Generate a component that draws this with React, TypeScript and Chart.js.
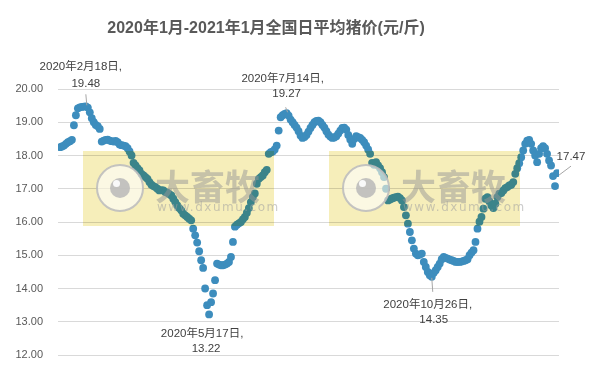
import React, { useEffect, useRef } from "react";
import { Chart, registerables } from "chart.js";

Chart.register(...registerables);

// Daily average hog price (yuan/jin), Jan 2020 - Jan 2021
const prices: number[] = [
  18.25, 18.27, 18.30, 18.35, 18.40, 18.43, 18.47, 18.91, 19.21, 19.42,
  19.45, 19.46, 19.47, 19.48, 19.44, 19.30, 19.12, 19.00, 18.92, 18.88,
  18.80, 18.42, 18.45, 18.47, 18.48, 18.45, 18.43, 18.42, 18.44, 18.40,
  18.33, 18.31, 18.30, 18.28, 18.22, 18.12, 18.00, 17.78, 17.70, 17.62,
  17.55, 17.45, 17.40, 17.35, 17.30, 17.20, 17.12, 17.08, 17.05, 17.00,
  16.95, 16.96, 16.95, 16.90, 16.88, 16.84, 16.80, 16.70, 16.60, 16.50,
  16.42, 16.35, 16.25, 16.20, 16.15, 16.10, 16.05, 15.80, 15.60, 15.38,
  15.12, 14.85, 14.62, 14.00, 13.50, 13.22, 13.59, 13.85, 14.25, 14.75,
  14.72, 14.70, 14.70, 14.72, 14.75, 14.80, 14.95, 15.40, 15.86, 15.92,
  15.96, 16.00, 16.08, 16.15, 16.28, 16.42, 16.60, 16.75, 16.86, 17.15,
  17.30, 17.35, 17.40, 17.50, 17.57, 18.05, 18.10, 18.12, 18.18, 18.30,
  18.75, 19.15, 19.21, 19.25, 19.27, 19.20, 19.08, 19.00, 18.92, 18.84,
  18.73, 18.60, 18.53, 18.56, 18.62, 18.72, 18.83, 18.92, 19.00, 19.04,
  19.05, 19.00, 18.92, 18.84, 18.73, 18.63, 18.57, 18.53, 18.54, 18.58,
  18.66, 18.75, 18.83, 18.84, 18.78, 18.62, 18.48, 18.35, 18.50, 18.58,
  18.55, 18.53, 18.47, 18.40, 18.30, 18.18, 18.05, 17.78, 17.72, 17.80,
  17.70, 17.62, 17.50, 17.35, 17.00, 16.65, 16.68, 16.71, 16.73, 16.75,
  16.76, 16.72, 16.65, 16.45, 16.20, 15.95, 15.70, 15.45, 15.20, 15.05,
  15.00, 15.02, 15.05, 14.80, 14.65, 14.50, 14.40, 14.35, 14.47, 14.55,
  14.65, 14.75, 14.88, 14.95, 14.92, 14.90, 14.87, 14.85, 14.83, 14.80,
  14.80, 14.80, 14.81, 14.83, 14.85, 14.88, 15.00, 15.08, 15.15, 15.40,
  15.80, 16.01, 16.15, 16.40, 16.70, 16.75, 16.62, 16.50, 16.42, 16.55,
  16.75, 16.85, 16.87, 16.95, 17.02, 17.05, 17.10, 17.12, 17.20, 17.45,
  17.62, 17.77, 17.95, 18.15, 18.35, 18.45, 18.47, 18.35, 18.15, 18.00,
  17.80, 18.05, 18.22, 18.28, 18.22, 18.05, 17.85, 17.70, 17.38, 17.08,
  17.47,
];

const yTicks: number[] = [12, 13, 14, 15, 16, 17, 18, 19, 20];

const titleText = "2020年1月-2021年1月全国日平均猪价(元/斤)";

// annotated points: index into prices, date label, value label
const annIndex: number[] = [13, 75, 114, 187, 250];
const annDate: string[] = ["2020年2月18日,", "2020年5月17日,", "2020年7月14日,", "2020年10月26日,", ""];
const annValue: string[] = ["19.48", "13.22", "19.27", "14.35", "17.47"];

// label layout offsets relative to the point (style, not data)
const annLayout = [
  { l1: [-5, -39], l2: [0, -22], lead: [[0, -12], [1, -1]] },
  { l1: [-7, 19], l2: [-3, 34], lead: null },
  { l1: [-4, -34], l2: [0, -19], lead: [[-1, -6], [1, -1]] },
  { l1: [-4, 28], l2: [2, 43], lead: [[0, 1], [1, 15]] },
  { l1: [0, 0], l2: [14, -16], lead: [[2, 2], [14, -7]] },
];

const LABEL_FONT = '11.5px "Liberation Sans", "Noto Sans CJK SC", sans-serif';

function drawWatermark(ctx: CanvasRenderingContext2D, x: number, y: number) {
  const w = 191;
  const h = 75;
  ctx.save();
  ctx.globalCompositeOperation = "multiply";
  ctx.fillStyle = "rgb(246,238,186)";
  ctx.fillRect(x, y, w, h);
  ctx.restore();

  ctx.save();
  const cx = x + 37;
  const cy = y + 37;
  ctx.beginPath();
  ctx.arc(cx, cy, 23, 0, Math.PI * 2);
  ctx.fillStyle = "rgba(255,255,255,0.6)";
  ctx.fill();
  ctx.lineWidth = 2;
  ctx.strokeStyle = "rgba(190,190,190,0.9)";
  ctx.stroke();
  ctx.beginPath();
  ctx.arc(cx, cy, 10, 0, Math.PI * 2);
  ctx.fillStyle = "rgba(185,185,185,0.85)";
  ctx.fill();
  ctx.beginPath();
  ctx.arc(cx - 3.5, cy - 4.5, 3.5, 0, Math.PI * 2);
  ctx.fillStyle = "rgba(255,255,255,0.9)";
  ctx.fill();

  ctx.fillStyle = "rgba(150,150,150,0.5)";
  ctx.font = 'bold 35px "Noto Sans CJK SC", sans-serif';
  ctx.textAlign = "left";
  ctx.textBaseline = "middle";
  ctx.fillText("大畜牧", x + 72, y + 36);

  ctx.fillStyle = "rgba(160,160,160,0.55)";
  ctx.font = '12px "DejaVu Sans", sans-serif';
  (ctx as any).letterSpacing = "1.5px";
  ctx.fillText("www.dxumu.com", x + 74, y + 57);
  ctx.restore();
}

const watermarkPlugin = {
  id: "watermark",
  afterDatasetsDraw(chart: any) {
    const ctx = chart.ctx as CanvasRenderingContext2D;
    drawWatermark(ctx, 83, 151);
    drawWatermark(ctx, 329, 151);
  },
};

const titlePlugin = {
  id: "customTitle",
  afterDraw(chart: any) {
    const ctx = chart.ctx as CanvasRenderingContext2D;
    ctx.save();
    ctx.fillStyle = "#595959";
    ctx.font = 'bold 16px "Liberation Sans", "Noto Sans CJK SC", sans-serif';
    ctx.textAlign = "center";
    ctx.textBaseline = "middle";
    ctx.fillText(titleText, 266, 29);
    ctx.restore();
  },
};

const annotationPlugin = {
  id: "pointLabels",
  afterDraw(chart: any) {
    const ctx = chart.ctx as CanvasRenderingContext2D;
    const xs = chart.scales.x;
    const ys = chart.scales.y;
    ctx.save();
    ctx.font = LABEL_FONT;
    ctx.fillStyle = "#404040";
    ctx.textAlign = "center";
    ctx.textBaseline = "middle";
    annIndex.forEach((idx, k) => {
      const px = xs.getPixelForValue(idx);
      const py = ys.getPixelForValue(prices[idx]);
      const lay = annLayout[k];
      if (lay.lead) {
        ctx.beginPath();
        ctx.strokeStyle = "#a6a6a6";
        ctx.lineWidth = 1;
        ctx.moveTo(px + lay.lead[0][0], py + lay.lead[0][1]);
        ctx.lineTo(px + lay.lead[1][0], py + lay.lead[1][1]);
        ctx.stroke();
      }
      if (annDate[k]) ctx.fillText(annDate[k], px + lay.l1[0], py + lay.l1[1]);
      ctx.fillText(annValue[k], px + lay.l2[0], py + lay.l2[1]);
    });
    ctx.restore();
  },
};

export default function App() {
  const ref = useRef<HTMLCanvasElement | null>(null);
  useEffect(() => {
    if (!ref.current) return;
    const data = prices.map((v, i) => ({ x: i, y: v }));
    const chart = new Chart(ref.current, {
      type: "scatter",
      data: {
        datasets: [
          {
            data,
            backgroundColor: "#3d8dbd",
            borderWidth: 0,
            pointRadius: 3.9,
            pointHoverRadius: 3.9,
          },
        ],
      },
      options: {
        responsive: false,
        animation: false,
        devicePixelRatio: 1,
        layout: { padding: { top: 89, right: 35, bottom: 24, left: 0 } },
        plugins: {
          legend: { display: false },
          tooltip: { enabled: false },
          title: { display: false },
        },
        scales: {
          x: { type: "linear", min: -1, max: prices.length, display: false },
          y: {
            min: yTicks[0],
            max: yTicks[yTicks.length - 1],
            afterBuildTicks: (s: any) => {
              s.ticks = yTicks.map((v) => ({ value: v }));
            },
            afterFit: (s: any) => {
              s.width = 58;
            },
            ticks: {
              callback: (v: any) => Number(v).toFixed(2),
              color: "#595959",
              font: { family: '"Liberation Sans", sans-serif', size: 11 },
              padding: 15,
            },
            grid: { color: "#d9d9d9", drawTicks: false, lineWidth: 1 },
            border: { display: false },
          },
        },
      } as any,
      plugins: [watermarkPlugin, annotationPlugin, titlePlugin],
    });
    return () => chart.destroy();
  }, []);
  return (
    <div style={{ position: "fixed", left: 0, top: 0, width: 594, height: 379, background: "#fff" }}>
      <canvas ref={ref} width={594} height={379} style={{ width: 594, height: 379, display: "block" }} />
    </div>
  );
}
